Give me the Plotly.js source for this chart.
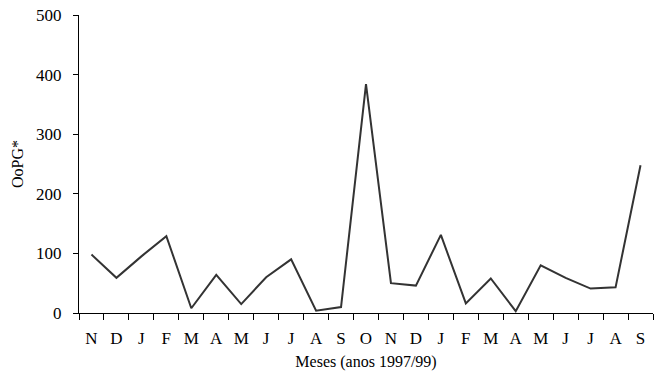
<!DOCTYPE html>
<html><head><meta charset="utf-8">
<script src="https://cdn.plot.ly/plotly-3.0.1.min.js"></script>
<style>body{margin:0;padding:0;background:#fff}#chart{width:655px;height:380px}</style>
</head><body><div id="chart"></div>
<script>
var months = ["N","D","J","F","M","A","M","J","J","A","S","O","N","D","J","F","M","A","M","J","J","A","S"];
var values = [98,59,95,129,8,64,15,60,90,4,10,384,50,46,131,16,58,3,80,59,41,43,248];
var xIdx = months.map(function(_, i){ return i; });
var bounds = [];
for (var i = 0; i <= months.length; i++) bounds.push(i - 0.5);

var trace = {
  x: xIdx, y: values, type: "scatter", mode: "lines",
  line: {color: "#333333", width: 2}, hoverinfo: "none", showlegend: false
};
var dummy = {x: [0], y: [0], xaxis: "x2", yaxis: "y", mode: "none", showlegend: false, hoverinfo: "none"};

var fontFam = "Liberation Serif, Times New Roman, serif";
var layout = {
  width: 655, height: 380,
  margin: {l: 79, r: 2, t: 15, b: 67},
  paper_bgcolor: "#fff", plot_bgcolor: "#fff",
  font: {family: fontFam, size: 16, color: "#000"},
  xaxis: {
    range: [-0.5, months.length - 0.5],
    tickmode: "array", tickvals: xIdx, ticktext: months,
    ticks: "", showgrid: false, zeroline: false,
    showline: true, linecolor: "#000", linewidth: 1,
    ticklabelstandoff: 10,
    tickfont: {family: fontFam, size: 17, color: "#000"},
    title: {text: "Meses (anos 1997/99)", font: {family: fontFam, size: 16, color: "#000"}, standoff: 8}
  },
  xaxis2: {
    overlaying: "x", matches: "x", range: [-0.5, months.length - 0.5],
    tickmode: "array", tickvals: bounds, showticklabels: false,
    ticks: "outside", ticklen: 6, tickcolor: "#000", tickwidth: 1,
    showgrid: false, zeroline: false, showline: false, side: "bottom"
  },
  yaxis: {
    range: [0, 500], tickmode: "array", tickvals: [0,100,200,300,400,500],
    ticks: "outside", ticklen: 5, tickcolor: "#000", tickwidth: 1,
    showgrid: false, zeroline: false, showline: true, linecolor: "#000", linewidth: 1,
    ticklabelstandoff: 8,
    tickfont: {family: fontFam, size: 17, color: "#000"},
    title: {text: "OoPG*", font: {family: fontFam, size: 16, color: "#000"}, standoff: 8}
  }
};
Plotly.newPlot("chart", [trace, dummy], layout, {displayModeBar: false, staticPlot: true});
</script></body></html>
